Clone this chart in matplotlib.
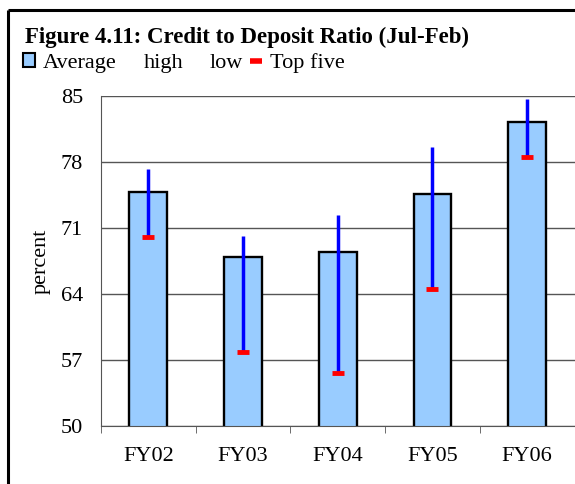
import matplotlib.pyplot as plt
from matplotlib.patches import Patch
from matplotlib.lines import Line2D
import numpy as np

plt.rcParams["font.family"] = ["Liberation Serif", "DejaVu Serif"]

# Data
years = ["FY02", "FY03", "FY04", "FY05", "FY06"]
average = [74.8, 67.9, 68.5, 74.6, 82.2]
high = [77.3, 70.1, 72.4, 79.6, 84.7]
low = [70.0, 57.8, 55.6, 64.5, 78.5]
top_five = [70.0, 57.8, 55.6, 64.5, 78.5]
yticks = [50, 57, 64, 71, 78, 85]

bar_color = "#99CCFF"

fig = plt.figure(figsize=(5.75, 4.84), dpi=100)
ax = fig.add_axes([101 / 575, 1 - 426 / 484, 473.5 / 575, 330 / 484])

x = np.arange(len(years))
ax.bar(x, average, width=0.4, bottom=0, color=bar_color, edgecolor="black",
       linewidth=1.7, zorder=2)
ax.vlines(x, low, high, color="#0000FF", linewidth=2.5, zorder=3)
ax.plot(x, top_five, linestyle="none", marker="_", markersize=9,
        markeredgewidth=3.5, color="red", zorder=4)

ax.set_ylim(50, 85)
ax.set_xlim(-0.5, len(years) - 0.5)
ax.set_yticks(yticks)
ax.set_yticklabels([str(v) for v in yticks], fontsize=16)
ax.tick_params(axis="y", length=0, pad=13)
ax.set_xticks(x)
ax.set_xticklabels(years, fontsize=16)
ax.set_xticks(np.arange(len(years) + 1) - 0.5, minor=True)
ax.tick_params(axis="x", which="major", length=0, pad=15)
ax.tick_params(axis="x", which="minor", length=5, color="#555555", direction="out")
ax.grid(axis="y", color="#555555", linewidth=1)
ax.set_axisbelow(True)
for s in ["top", "right"]:
    ax.spines[s].set_visible(False)
for s in ["left", "bottom"]:
    ax.spines[s].set_color("#555555")
ax.set_ylabel("percent", fontsize=16, labelpad=7)

fig.text(25 / 575, 1 - 37 / 484, "Figure 4.11: Credit to Deposit Ratio (Jul-Feb)",
         fontsize=16.5, fontweight="bold", va="center", ha="left")

handles = [
    Patch(facecolor=bar_color, edgecolor="black", linewidth=1.5),
    Line2D([], [], linestyle="none"),
    Line2D([], [], linestyle="none"),
    Line2D([], [], color="red", linewidth=4, solid_capstyle="butt"),
]
fig.legend(handles, ["Average", "high", "low", "Top five"], ncol=4,
           loc="center left", bbox_to_anchor=(23 / 575, 1 - 63 / 484),
           frameon=False, fontsize=16, handlelength=0.55, handleheight=0.55,
           handletextpad=0.35, columnspacing=0.3, borderpad=0, borderaxespad=0)

# outer frame
fig.add_artist(Line2D([8 / 575, 8 / 575], [0, 1 - 10 / 484], color="black",
                      linewidth=2.2, transform=fig.transFigure,
                      solid_capstyle="butt"))
fig.add_artist(Line2D([8 / 575, 1], [1 - 10 / 484, 1 - 10 / 484], color="black",
                      linewidth=2.2, transform=fig.transFigure,
                      solid_capstyle="butt"))

fig.savefig("out.png", dpi=100)
